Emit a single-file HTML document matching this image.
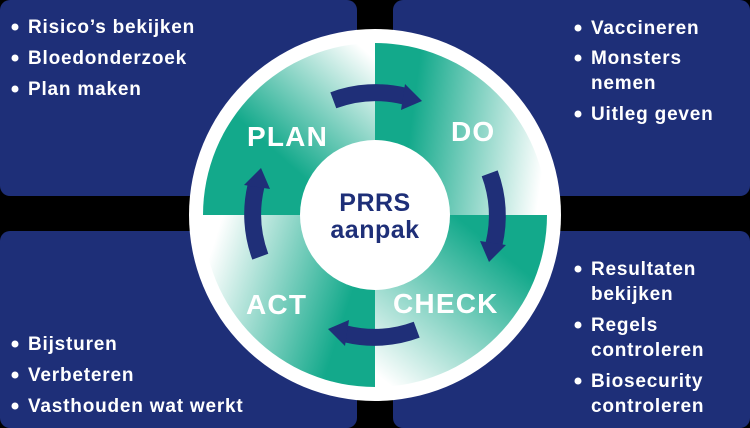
<!DOCTYPE html>
<html><head><meta charset="utf-8"><style>
html,body{margin:0;padding:0;background:#000;width:750px;height:428px;overflow:hidden}
svg{display:block}
text{font-family:"Liberation Sans",sans-serif;font-weight:bold}
</style></head><body>
<svg width="750" height="428" viewBox="0 0 750 428" xmlns="http://www.w3.org/2000/svg">
<defs>
<linearGradient id="gP" gradientUnits="userSpaceOnUse" x1="250" y1="190" x2="370" y2="55"><stop offset="0.25" stop-color="#13a98b"/><stop offset="1" stop-color="#ffffff"/></linearGradient>
<linearGradient id="gD" gradientUnits="userSpaceOnUse" x1="395" y1="130" x2="545" y2="150"><stop offset="0.1" stop-color="#13a98b"/><stop offset="1" stop-color="#ffffff"/></linearGradient>
<linearGradient id="gC" gradientUnits="userSpaceOnUse" x1="510" y1="235" x2="390" y2="385"><stop offset="0.1" stop-color="#13a98b"/><stop offset="1" stop-color="#ffffff"/></linearGradient>
<linearGradient id="gA" gradientUnits="userSpaceOnUse" x1="370" y1="290" x2="215" y2="240"><stop offset="0.1" stop-color="#13a98b"/><stop offset="1" stop-color="#ffffff"/></linearGradient>
<g id="arr"><path d="M333.3,100.3 A122,122 0 0 1 404,96" fill="none" stroke="#1f2f78" stroke-width="17"/><polygon points="401,110 405,84 422,101" fill="#1f2f78"/></g>
</defs>
<rect x="0" y="0" width="357" height="196" rx="10" fill="#1e2f78"/>
<rect x="393" y="0" width="357" height="196" rx="10" fill="#1e2f78"/>
<rect x="0" y="231" width="357" height="197" rx="10" fill="#1e2f78"/>
<rect x="393" y="231" width="357" height="197" rx="10" fill="#1e2f78"/>
<circle cx="375" cy="215" r="186" fill="#ffffff"/>
<path d="M375,215 L203,215 A172,172 0 0 1 375,43 Z" fill="url(#gP)"/>
<path d="M375,215 L375,43 A172,172 0 0 1 547,215 Z" fill="url(#gD)"/>
<path d="M375,215 L547,215 A172,172 0 0 1 375,387 Z" fill="url(#gC)"/>
<path d="M375,215 L375,387 A172,172 0 0 1 203,215 Z" fill="url(#gA)"/>
<circle cx="375" cy="215" r="75" fill="#ffffff"/>
<use href="#arr"/>
<use href="#arr" transform="rotate(90 375 215)"/>
<use href="#arr" transform="rotate(180 375 215)"/>
<use href="#arr" transform="rotate(270 375 215)"/>
<g fill="#ffffff" font-size="28" letter-spacing="1.2">
<text x="247" y="146">PLAN</text>
<text x="451" y="141">DO</text>
<text x="393" y="313">CHECK</text>
<text x="246" y="314">ACT</text>
</g>
<g fill="#1e2f78" font-size="25" text-anchor="middle" letter-spacing="0.5">
<text x="375" y="211">PRRS</text>
<text x="375" y="238">aanpak</text>
</g>
<g fill="#ffffff" font-size="19" letter-spacing="0.8">
<text x="28" y="33">Risico’s bekijken</text>
<text x="28" y="64">Bloedonderzoek</text>
<text x="28" y="95">Plan maken</text>
<text x="591" y="34">Vaccineren</text>
<text x="591" y="64">Monsters</text>
<text x="591" y="89">nemen</text>
<text x="591" y="120">Uitleg geven</text>
<text x="28" y="350">Bijsturen</text>
<text x="28" y="381">Verbeteren</text>
<text x="28" y="412">Vasthouden wat werkt</text>
<text x="591" y="275">Resultaten</text>
<text x="591" y="300">bekijken</text>
<text x="591" y="331">Regels</text>
<text x="591" y="356">controleren</text>
<text x="591" y="387">Biosecurity</text>
<text x="591" y="412">controleren</text>
</g>
<g fill="#ffffff">
<circle cx="15" cy="27" r="3.5"/><circle cx="15" cy="58" r="3.5"/><circle cx="15" cy="89" r="3.5"/>
<circle cx="578" cy="28" r="3.5"/><circle cx="578" cy="58" r="3.5"/><circle cx="578" cy="114" r="3.5"/>
<circle cx="15" cy="344" r="3.5"/><circle cx="15" cy="375" r="3.5"/><circle cx="15" cy="406" r="3.5"/>
<circle cx="578" cy="269" r="3.5"/><circle cx="578" cy="325" r="3.5"/><circle cx="578" cy="381" r="3.5"/>
</g>
</svg>
</body></html>
